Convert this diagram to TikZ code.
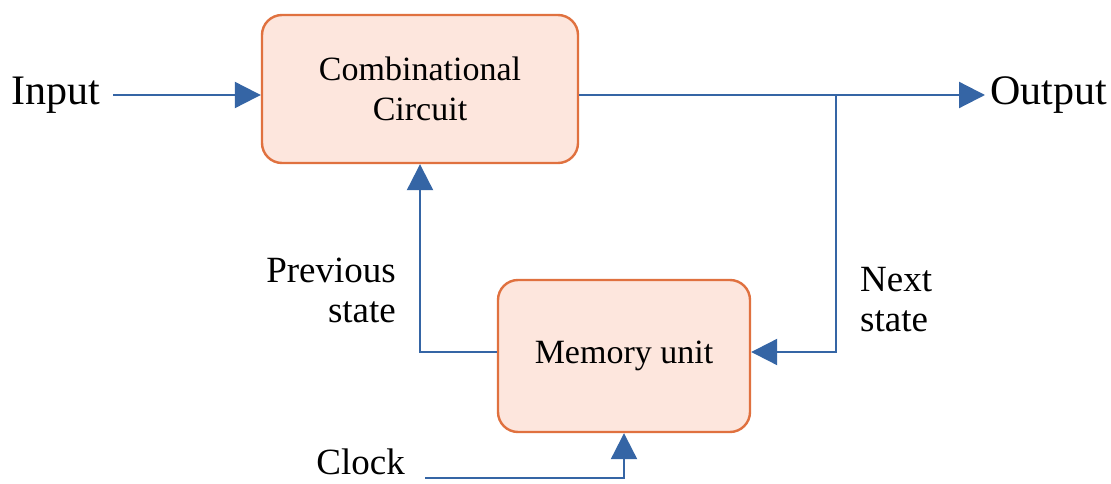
\documentclass[tikz,border=0pt]{standalone}
\usepackage{fontspec}
\setmainfont{Liberation Serif}
\usetikzlibrary{arrows.meta}
\definecolor{wire}{HTML}{3565A5}
\definecolor{boxedge}{HTML}{E0713F}
\definecolor{boxfill}{HTML}{FDE6DD}
\tikzset{
  block/.style={draw=boxedge, fill=boxfill, line width=2.4pt, rounded corners=20pt,
    inner sep=0pt, align=center, font=\fontsize{34}{40}\selectfont},
  wireline/.style={draw=wire, line width=2.2pt},
  tip/.style={-{Triangle[length=26pt,width=26pt]}},
  lbl/.style={inner sep=0pt, font=\fontsize{37}{40}\selectfont},
  biglbl/.style={inner sep=0pt, font=\fontsize{42}{44}\selectfont}
}
\begin{document}
\begin{tikzpicture}[x=1pt,y=-1pt]
\useasboundingbox[fill=white] (0,0) rectangle (1111,484);

% blocks
\node[block, minimum width=316pt, minimum height=148pt] (comb) at (420,89) {Combinational\\Circuit};
\node[block, minimum width=252pt, minimum height=152pt] (mem) at (624,356) {Memory unit};

% labels
\node[biglbl, anchor=west] (in) at (11,95) {Input};
\node[biglbl, anchor=west] (out) at (990,95) {Output};
\node[lbl, anchor=east, align=right] (prev) at (396,290) {Previous\\state};
\node[lbl, anchor=west, align=left] (next) at (860,300) {Next\\state};
\node[lbl, anchor=east] (clk) at (405,462) {Clock};

% junction points
\coordinate (br) at (836,95);
\coordinate (outend) at (985,95);
\coordinate (pv) at (420,352);
\coordinate (ck) at (425,478);

% connectors
\draw[wireline, tip] (113,95) -- (comb.west |- 0,95);
\draw[wireline, tip] (comb.east |- br) -- (outend);
\draw[wireline, tip] (br) -- (br |- pv) -- (mem.east |- pv);
\draw[wireline, tip] (mem.west |- pv) -- (pv) -- (pv |- comb.south);
\draw[wireline, tip] (ck) -- (mem.south |- ck) -- (mem.south);
\end{tikzpicture}
\end{document}
